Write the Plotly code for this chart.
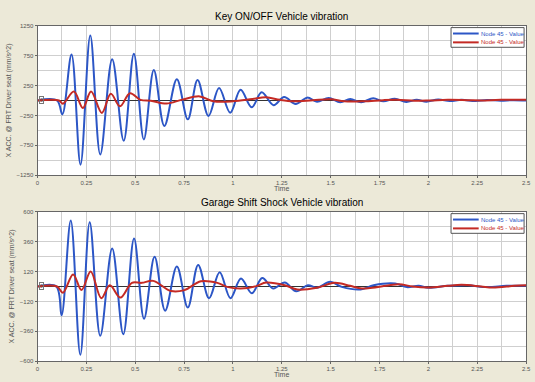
import plotly.graph_objects as go

# ---------------- data ----------------
key_t_blue = [0, 0.1, 0.127, 0.174, 0.22, 0.27, 0.321, 0.382, 0.441, 0.493, 0.544, 0.595, 0.649,
              0.713, 0.769, 0.819, 0.875, 0.929, 0.986, 1.039, 1.096, 1.147, 1.208, 1.262, 1.321,
              1.38, 1.43, 1.49, 1.549, 1.60, 1.656, 1.718, 1.77, 1.828, 1.887, 1.94, 1.99, 2.05,
              2.11, 2.17, 2.24, 2.3, 2.37, 2.43, 2.5]
key_v_blue = [0, 0, -233, 766, -1073, 1084, -903, 689, -673, 782, -651, 508, -425,
              354, -316, 343, -261, 206, -206, 178, -113, 135, -80, 58, -58,
              47, -20, 41, -30, 25, -30, 35, -15, 30, -25, 10, -20, 17,
              -8, 10, -8, 8, -5, 5, 0]
key_t_red = [0, 0.11, 0.13, 0.186, 0.232, 0.274, 0.329, 0.375, 0.422, 0.473, 0.527, 0.58, 0.66,
             0.74, 0.83, 0.9, 1.0, 1.1, 1.17, 1.24, 1.31, 1.41, 1.5, 1.57, 1.67, 1.77, 1.84,
             1.93, 2.01, 2.1, 2.2, 2.27, 2.37, 2.5]
key_v_red = [0, 0, -54, 148, -126, 148, -208, 110, -99, 121, 10, -5, -52,
             14, 68, -14, -14, 25, 52, 10, -14, 5, 20, -14, -14, 5, 10,
             -5, 0, 10, 5, 0, 10, 10]

gar_t_blue = [0, 0.096, 0.123, 0.17, 0.219, 0.267, 0.321, 0.382, 0.439, 0.494, 0.545, 0.599,
              0.653, 0.713, 0.769, 0.822, 0.878, 0.932, 0.987, 1.041, 1.097, 1.15, 1.206,
              1.265, 1.324, 1.383, 1.43, 1.498, 1.557, 1.653, 1.72, 1.83, 1.89, 1.95, 2.0,
              2.1, 2.2, 2.3, 2.4, 2.5]
gar_v_blue = [0, 0, -231, 529, -548, 516, -396, 304, -383, 385, -259, 238,
              -194, 160, -168, 173, -94, 115, -94, 63, -55, 68, -16,
              31, -39, 10, -10, 37, -3, -24, 10, 24, -5, 5, -10,
              5, 10, -5, 5, 5]
gar_t_red = [0, 0.1, 0.13, 0.182, 0.225, 0.272, 0.326, 0.37, 0.424, 0.483, 0.533, 0.592,
             0.684, 0.752, 0.836, 0.92, 0.97, 1.04, 1.12, 1.17, 1.265, 1.33, 1.43, 1.52,
             1.6, 1.66, 1.8, 1.85, 1.92, 2.0, 2.1, 2.17, 2.27, 2.33, 2.44, 2.5]
gar_v_red = [0, 0, -50, 97, -29, 120, -94, 10, -89, 29, 29, 45,
             -37, -29, 42, 29, -3, -16, 3, 31, 10, -24, -10, 29,
             5, -16, 10, 18, 0, -8, 5, 13, 0, -8, 5, 10]

x_ticks = [0, 0.25, 0.5, 0.75, 1, 1.25, 1.5, 1.75, 2, 2.25, 2.5]
x_ticktext = ["0", "0.25", "0.5", "0.75", "1", "1.25", "1.5", "1.75", "2", "2.25", "2.5"]
key_y_ticks = [1250, 750, 250, -250, -750, -1250]
gar_y_ticks = [600, 360, 120, -120, -360, -600]

titles = ["Key ON/OFF Vehicle vibration", "Garage Shift Shock Vehicle vibration"]
series_name = "Node 45 - Value"
y_title = "X ACC. @ FRT Driver seat (mm/s^2)"

# ---------------- style ----------------
BLUE = "#2C56C6"
RED = "#C42A24"
FONT = "Liberation Sans, Arial, sans-serif"
W, H = 535, 382
PX0, PX1 = 36, 531          # plot area left/right in pixels
PANELS = [(23, 175), (212, 364)]  # plot area top/bottom in pixels


def px(x):
    return x / W


def py(y):
    return 1 - y / H


fig = go.Figure()


def add_pair(tb, vb, tr, vr, xa, ya):
    fig.add_trace(go.Scatter(x=tb, y=vb, mode="lines", xaxis=xa, yaxis=ya,
                             line=dict(color=BLUE, width=2, shape="spline", smoothing=1.0),
                             name=series_name, showlegend=False))
    fig.add_trace(go.Scatter(x=tr, y=vr, mode="lines", xaxis=xa, yaxis=ya,
                             line=dict(color=RED, width=2, shape="spline", smoothing=1.0),
                             name=series_name, showlegend=False))


add_pair(key_t_blue, key_v_blue, key_t_red, key_v_red, "x", "y")
add_pair(gar_t_blue, gar_v_blue, gar_t_red, gar_v_red, "x2", "y2")

GRID = "#CFCFCF"
AX = "#666666"
tickfont = dict(family=FONT, size=6, color="#555555")


def xaxis(anchor):
    return dict(domain=[px(PX0), px(PX1)], range=[0, 2.5], anchor=anchor,
                tickvals=x_ticks, ticktext=x_ticktext, tickfont=tickfont,
                ticklabeloverflow="allow",
                showgrid=True, gridcolor=GRID, gridwidth=1,
                minor=dict(dtick=0.125, tick0=0, showgrid=True, gridcolor=GRID, gridwidth=1),
                showline=True, linecolor=AX, linewidth=1, mirror=True,
                ticks="outside", ticklen=2, tickcolor=AX,
                zeroline=False, fixedrange=True)


def yaxis(anchor, dom, rng, ticks, step):
    return dict(domain=dom, range=rng, anchor=anchor,
                tickvals=ticks, tickfont=tickfont, ticklabeloverflow="allow",
                showgrid=True, gridcolor=GRID, gridwidth=1,
                minor=dict(dtick=step, tick0=rng[0], showgrid=True, gridcolor=GRID, gridwidth=1),
                showline=True, linecolor=AX, linewidth=1, mirror=True,
                ticks="outside", ticklen=2, tickcolor=AX,
                zeroline=True, zerolinecolor="#333333", zerolinewidth=1,
                title=dict(text=y_title, font=dict(family=FONT, size=7, color="#555555"),
                           standoff=4),
                fixedrange=True)


annotations = []
shapes = []
cx = px(0.5 * (PX0 + PX1))
for i, (top, bot) in enumerate(PANELS):
    # title and x-axis label
    annotations.append(dict(text=titles[i], x=cx, y=py(top - 9), xref="paper", yref="paper",
                            xanchor="center", yanchor="middle", showarrow=False,
                            font=dict(family=FONT, size=10, color="black")))
    annotations.append(dict(text="Time", x=cx, y=py(bot + 13), xref="paper", yref="paper",
                            xanchor="center", yanchor="middle", showarrow=False,
                            font=dict(family=FONT, size=7, color="#555555")))
    # zero marker box on the left axis
    annotations.append(dict(text="0", x=px(PX0 + 1), y=py((top + bot) / 2), xref="paper",
                            yref="paper", xanchor="left", yanchor="middle", showarrow=False,
                            font=dict(family=FONT, size=5, color="#555555"),
                            bordercolor="#777777", borderwidth=1, borderpad=0))
    # legend box (drawn manually to match the compact original)
    lx0, lx1 = 455, 529
    ly0, ly1 = top + 2, top + 22
    shapes.append(dict(type="rect", xref="paper", yref="paper",
                       x0=px(lx0), x1=px(lx1), y0=py(ly1), y1=py(ly0),
                       fillcolor="white", line=dict(color="#555555", width=1)))
    for j, col in enumerate([BLUE, RED]):
        yy = ly0 + 6 + j * 9
        shapes.append(dict(type="line", xref="paper", yref="paper",
                           x0=px(lx0 + 2), x1=px(lx0 + 28), y0=py(yy), y1=py(yy),
                           line=dict(color=col, width=2)))
        annotations.append(dict(text=series_name, x=px(lx0 + 28), y=py(yy), xref="paper",
                                yref="paper", xanchor="left", yanchor="middle",
                                showarrow=False, font=dict(family=FONT, size=6, color=col)))

fig.update_layout(
    width=W, height=H,
    margin=dict(l=0, r=0, t=0, b=0),
    paper_bgcolor="#ECE9D8",
    plot_bgcolor="white",
    font=dict(family=FONT),
    xaxis=xaxis("y"),
    yaxis=yaxis("x", [py(PANELS[0][1]), py(PANELS[0][0])], [-1250, 1250], key_y_ticks, 250),
    xaxis2=xaxis("y2"),
    yaxis2=yaxis("x2", [py(PANELS[1][1]), py(PANELS[1][0])], [-600, 600], gar_y_ticks, 120),
    showlegend=False,
    annotations=annotations,
    shapes=shapes,
)

fig.write_html("out.html")
